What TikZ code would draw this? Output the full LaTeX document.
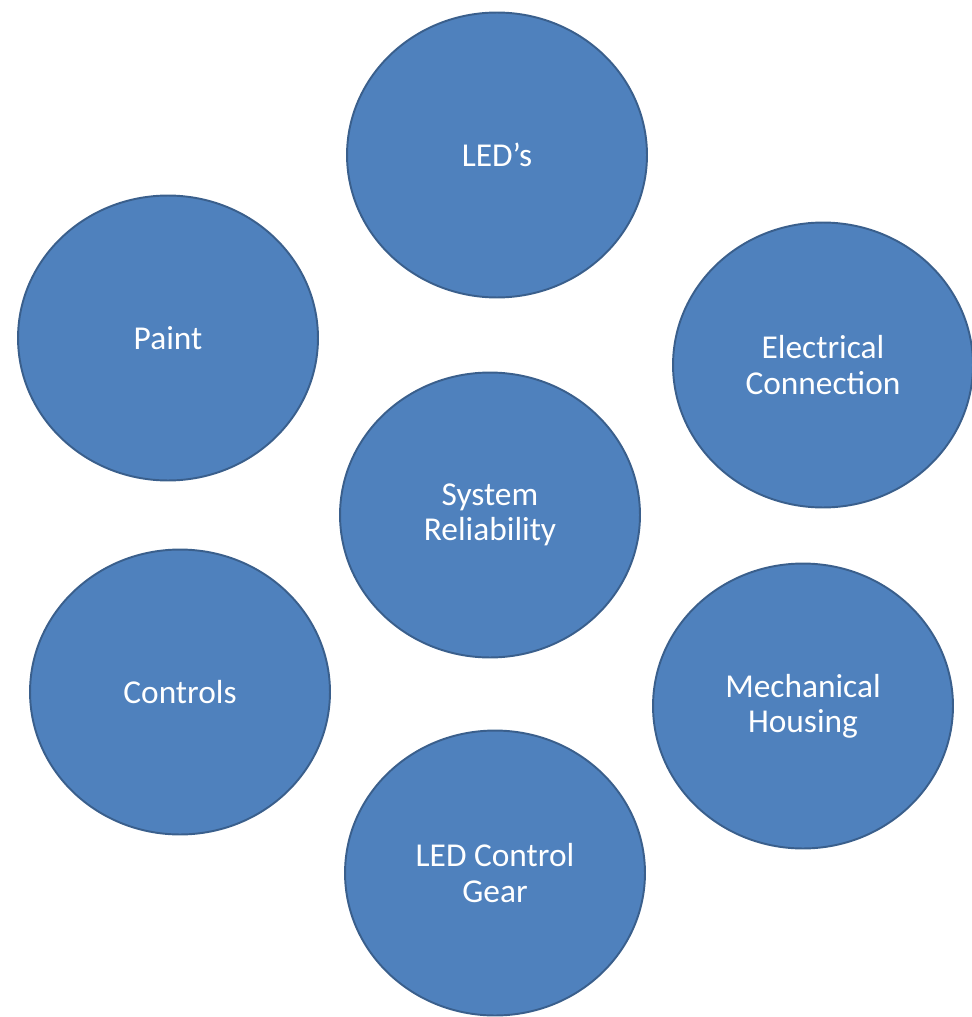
\documentclass[tikz,border=0pt]{standalone}
\usepackage{fontspec}
\setmainfont{Carlito}
\usetikzlibrary{shapes.geometric}

\definecolor{bubblefill}{HTML}{4F81BD}
\definecolor{bubbleline}{HTML}{3A5F8C}

\tikzset{
  bubble/.style={ellipse, draw=bubbleline, line width=1.1pt, fill=bubblefill,
    text=white, align=center, inner sep=0pt,
    minimum width=6cm, minimum height=5.7cm,
    font=\fontsize{19}{20}\selectfont},
}

\begin{document}
\begin{tikzpicture}[x=0.02cm, y=-0.02cm]
    \useasboundingbox (0,0) rectangle (971,1017);
    \node[bubble] (leds) at (497, 155) {LED’s};
    \node[bubble] (paint) at (168, 338) {Paint};
    \node[bubble] (elec) at (823, 365) {Electrical\\Connection};
    \node[bubble] (sys) at (490, 515) {System\\Reliability};
    \node[bubble] (ctrl) at (180, 692) {Controls};
    \node[bubble] (mech) at (803, 706) {Mechanical\\Housing};
    \node[bubble] (gear) at (495, 873) {LED Control\\Gear};
  \end{tikzpicture}
\end{document}
